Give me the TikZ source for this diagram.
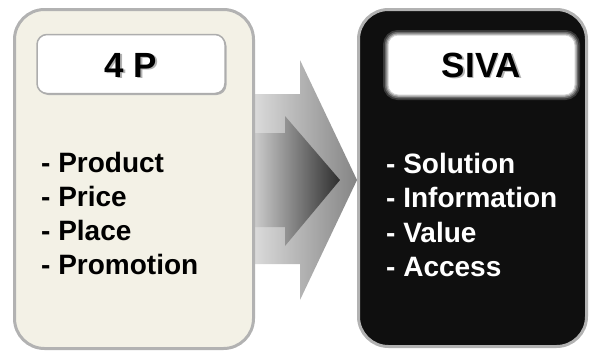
\documentclass[tikz,border=0pt]{standalone}
\usepackage{fontspec}
\setmainfont{Liberation Sans}
\definecolor{cream}{HTML}{F3F1E6}
\definecolor{rim}{HTML}{B2B2B2}
\definecolor{ink}{HTML}{0F0F0F}
\begin{document}
\begin{tikzpicture}[x=1pt,y=-1pt,
  panel/.style={rectangle, rounded corners=30pt, line width=3pt, draw=rim, inner sep=0pt},
  tag/.style={rectangle, rounded corners=10pt, inner sep=0pt, minimum width=188pt, minimum height=59pt},
  title/.style={font=\bfseries\fontsize{35}{40}\selectfont, inner sep=0pt},
  item/.style={font=\bfseries\fontsize{28}{34}\selectfont, inner sep=0pt, anchor=base west},
]
\useasboundingbox (0,0) rectangle (589,354);

% transition arrow (behind the panels)
\path[left color=black!13, middle color=black!22, right color=black!48]
  (250,94) -- (300,94) -- (300,60) -- (357,180) -- (300,300) -- (300,264) -- (250,264) -- cycle;
\path[left color=black!17, middle color=black!28, right color=black!82]
  (250,133) -- (285,133) -- (285,116) -- (340,180) -- (285,246) -- (285,227) -- (250,227) -- cycle;

% left panel: 4 P
\node[panel, fill=cream, minimum width=239pt, minimum height=339pt] (left) at (134,179) {};
\node[tag, fill=black!30] (leftshadow) at (132.5,65.5) {};
\node[tag, fill=white, draw=black!32, line width=1.5pt] (lefttag) at (131,64) {};
\node[title, text=black!30] (fourpshadow) at (132.5,66.5) {4 P};
\node[title, text=black] (fourp) at (131,65) {4 P};
\node[item] (product)   at (41,172) {- Product};
\node[item] (price)     at (41,206) {- Price};
\node[item] (place)     at (41,240) {- Place};
\node[item] (promotion) at (41,274) {- Promotion};

% right panel: SIVA
\node[panel, fill=ink, minimum width=228pt, minimum height=337pt] (right) at (472.5,178) {};
\node[tag, draw=black!78, line width=10pt, minimum width=187pt, minimum height=60pt] (glowa) at (481.5,65) {};
\node[tag, draw=black!58, line width=6.5pt, minimum width=187pt, minimum height=60pt] (glowb) at (481.5,65) {};
\node[tag, draw=black!36, line width=3.5pt, minimum width=187pt, minimum height=60pt] (glowc) at (481.5,65) {};
\node[tag, fill=white, draw=black!18, line width=1pt, minimum width=187pt, minimum height=60pt] (righttag) at (481.5,65) {};
\node[title, text=black!30] (sivashadow) at (483,66.5) {SIVA};
\node[title, text=black] (siva) at (481.5,65) {SIVA};
\node[item, text=white] (solution)    at (386,173) {- Solution};
\node[item, text=white] (information) at (386,207.5) {- Information};
\node[item, text=white] (value)       at (386,242) {- Value};
\node[item, text=white] (access)      at (386,276.5) {- Access};
\end{tikzpicture}
\end{document}
